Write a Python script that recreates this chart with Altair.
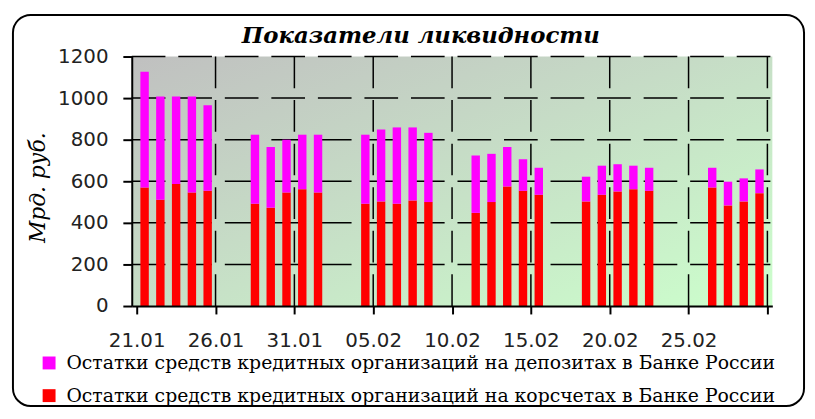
import altair as alt
import pandas as pd
from datetime import date

# ---- data ----
dates = ["21.01", "22.01", "23.01", "24.01", "25.01",
         "28.01", "29.01", "30.01", "31.01", "01.02",
         "04.02", "05.02", "06.02", "07.02", "08.02",
         "11.02", "12.02", "13.02", "14.02", "15.02",
         "18.02", "19.02", "20.02", "21.02", "22.02",
         "26.02", "27.02", "28.02", "29.02"]
korr = [570, 511, 587, 546, 555,
        492, 473, 546, 562, 546,
        492, 503, 492, 508, 500,
        448, 500, 575, 554, 535,
        503, 535, 551, 562, 554,
        570, 484, 503, 543]
deposits = [557, 497, 421, 462, 411,
            332, 292, 254, 262, 278,
            332, 346, 367, 351, 333,
            276, 232, 190, 152, 130,
            119, 140, 131, 113, 111,
            95, 114, 111, 114]
tick_labels = ["21.01", "26.01", "31.01", "05.02", "10.02", "15.02", "20.02", "25.02", ""]
x_ticks = [0, 5, 10, 15, 20, 25, 30, 35, 40]
y_ticks = [0, 200, 400, 600, 800, 1000, 1200]
series_names = ["Остатки средств кредитных организаций на депозитах в Банке России",
                "Остатки средств кредитных организаций на корсчетах в Банке России"]
colors = ["#ff00ff", "#ff0000"]
title_text = "Показатели ликвидности"
y_title = "Мрд. руб."

start = date(2008, 1, 21)
rows = []
for d, k, dep in zip(dates, korr, deposits):
    dd, mm = map(int, d.split("."))
    x = (date(2008, mm, dd) - start).days + 0.5
    rows.append({"day": x, "series": series_names[1], "value": k, "ord": 0})
    rows.append({"day": x, "series": series_names[0], "value": dep, "ord": 1})
df = pd.DataFrame(rows)

W, H = 647, 252
label_arr = "[" + ",".join("'%s'" % t for t in tick_labels) + "]"

xscale = alt.Scale(domain=[0, 40], nice=False, zero=False)
yscale = alt.Scale(domain=[0, 1200], nice=False)

one = pd.DataFrame({"t": [title_text]})

background = alt.Chart(one).mark_rect(
    fill=alt.LinearGradient(gradient="linear", x1=0, y1=0, x2=1, y2=1,
                            stops=[alt.GradientStop(color="#c0c0c0", offset=0),
                                   alt.GradientStop(color="#c6dcc6", offset=0.45),
                                   alt.GradientStop(color="#ccffcc", offset=1)])
).encode(x=alt.value(0), x2=alt.value(W), y=alt.value(0), y2=alt.value(H))

hgrid = alt.Chart(pd.DataFrame({"v": y_ticks[1:]})).mark_rule(
    color="black", strokeWidth=1.5, strokeDash=[34, 13]
).encode(y=alt.Y("v:Q", scale=yscale), x=alt.value(0), x2=alt.value(W))

vgrid = alt.Chart(pd.DataFrame({"v": x_ticks[1:]})).mark_rule(
    color="black", strokeWidth=1.5, strokeDash=[32, 12]
).encode(x=alt.X("v:Q", scale=xscale), y=alt.value(0), y2=alt.value(H))

bars = alt.Chart(df).mark_bar(size=8.5).encode(
    x=alt.X("day:Q", scale=xscale,
            axis=alt.Axis(values=x_ticks,
                          labelExpr=label_arr + "[round(datum.value/5)]",
                          title=None, grid=False, zindex=1,
                          domainColor="black", domainWidth=2,
                          tickColor="black", tickWidth=2, tickSize=8,
                          labelFont="DejaVu Sans", labelFontSize=20,
                          labelColor="#222222", labelPadding=17)),
    y=alt.Y("value:Q", stack="zero", scale=yscale,
            axis=alt.Axis(values=y_ticks, format="d",
                          title=y_title, grid=False, zindex=1,
                          domainColor="black", domainWidth=2,
                          tickColor="black", tickWidth=2, tickSize=9,
                          labelFont="DejaVu Sans", labelFontSize=20,
                          labelColor="#222222", labelPadding=15,
                          titleFont="DejaVu Serif", titleFontStyle="italic",
                          titleFontWeight="normal", titleFontSize=22,
                          titleColor="black", titleX=-95, titleY=132,
                          titleAngle=270, titleAlign="center",
                          titleBaseline="middle")),
    color=alt.Color("series:N",
                    scale=alt.Scale(domain=series_names, range=colors),
                    legend=alt.Legend(orient="none", legendX=-93, legendY=300,
                                      title=None, symbolType="square",
                                      symbolSize=170, symbolStrokeWidth=0,
                                      labelFont="DejaVu Serif", labelFontSize=19,
                                      labelColor="black", labelLimit=0,
                                      rowPadding=13, padding=0, labelOffset=8)),
    order=alt.Order("ord:Q"),
)

title = alt.Chart(one).mark_text(
    font="DejaVu Serif", fontSize=23, fontStyle="italic", fontWeight="bold",
    color="black", align="center", baseline="middle"
).encode(text="t:N", x=alt.value(292), y=alt.value(-21))

border = alt.Chart(one).mark_rect(
    filled=False, stroke="black", strokeWidth=2, cornerRadius=18
).encode(
    x=alt.value(-120), x2=alt.value(679), y=alt.value(-42), y2=alt.value(353)
)

chart = alt.layer(background, hgrid, vgrid, bars, title, border).properties(
    width=W, height=H,
    autosize=alt.AutoSizeParams(type="none"),
    padding={"left": 125, "top": 47, "right": 35, "bottom": 103},
    background="white",
).configure_view(stroke="transparent")

chart.save("out.html", embed_options={"renderer": "svg", "actions": False})
